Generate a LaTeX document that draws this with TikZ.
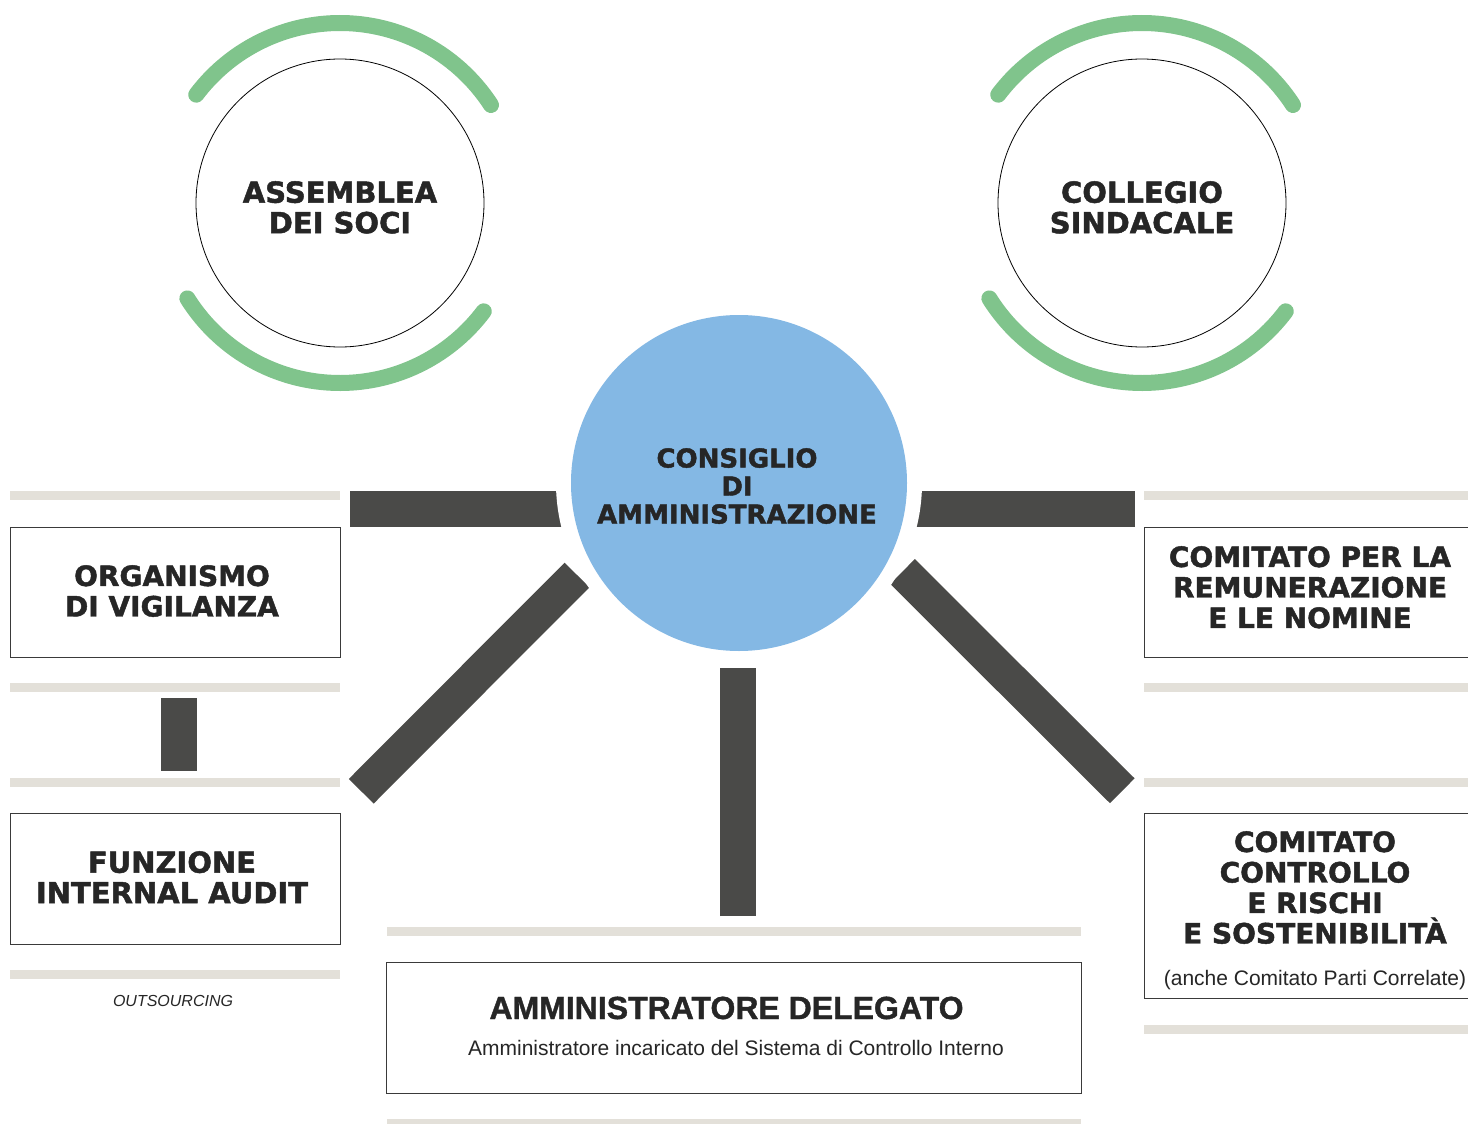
\documentclass[tikz,border=0pt]{standalone}
\usepackage{fontspec}
\setmainfont{Liberation Sans}[BoldFeatures={FakeBold=1.2}]
\newfontfamily\heavy{DejaVu Sans}[BoldFeatures={FakeBold=1.6}]
\definecolor{arcgreen}{HTML}{80C48C}
\definecolor{cdablue}{HTML}{84B8E4}
\definecolor{bardark}{HTML}{4A4A48}
\definecolor{barlight}{HTML}{E3E0D9}
\definecolor{boxline}{HTML}{3A3A3A}
\definecolor{txt}{HTML}{262626}
\begin{document}
\begin{tikzpicture}[x=1pt,y=-1pt,
  greenarc/.style={draw=arcgreen,line width=16pt,line cap=round},
  darkbar/.style={draw=bardark,line width=36pt},
  diagbar/.style={draw=bardark,line width=35pt},
  framebox/.style={draw=boxline,line width=1pt,fill=white,rectangle,inner sep=0pt},
  ttl/.style={text=txt,align=center,inner sep=0pt,anchor=north},
  big/.style={font=\heavy\bfseries\fontsize{29}{30.5}\selectfont},
  mid/.style={font=\heavy\bfseries\fontsize{28}{30.5}\selectfont},
  sub/.style={text=txt,inner sep=0pt,anchor=base,font=\fontsize{21}{24}\selectfont}]
\useasboundingbox[fill=white] (0,0) rectangle (1468,1124);

% light grey strips
\fill[barlight] (10,491) rectangle (340,500);
\fill[barlight] (10,683) rectangle (340,692);
\fill[barlight] (10,778) rectangle (340,787);
\fill[barlight] (10,970) rectangle (340,979);
\fill[barlight] (1144,491) rectangle (1468,500);
\fill[barlight] (1144,683) rectangle (1468,692);
\fill[barlight] (1144,778) rectangle (1468,787);
\fill[barlight] (1144,1025) rectangle (1468,1034);
\fill[barlight] (387,927) rectangle (1081,936);
\fill[barlight] (387,1119) rectangle (1081,1128);

% upper circles
\node[circle,draw=black,line width=0.8pt,minimum size=288pt,inner sep=0pt] (as) at (340,203) {};
\node[circle,draw=black,line width=0.8pt,minimum size=288pt,inner sep=0pt] (cs) at (1142,203) {};
\draw[greenarc] (as.center) ++(-33:180) arc[start angle=-33,end angle=-143,radius=180];
\draw[greenarc] (as.center) ++(148:180) arc[start angle=148,end angle=37,radius=180];
\draw[greenarc] (cs.center) ++(-33:180) arc[start angle=-33,end angle=-143,radius=180];
\draw[greenarc] (cs.center) ++(148:180) arc[start angle=148,end angle=37,radius=180];
\node[ttl,big] (astxt) at (340,181) {ASSEMBLEA\\DEI SOCI};
\node[ttl,big] (cstxt) at (1142,181) {COLLEGIO\\SINDACALE};

% connectors (thick bars)
\coordinate (hlA) at (350,509);  \coordinate (hlB) at (620,509);
\coordinate (hrA) at (1135,509); \coordinate (hrB) at (860,509);
\coordinate (dlA) at (361.25,791.25); \coordinate (dlB) at (577,575);
\coordinate (drA) at (1122.25,790.75); \coordinate (drB) at (902.5,571.5);
\coordinate (vA) at (738,916); \coordinate (vB) at (738,668);
\coordinate (sA) at (179,698); \coordinate (sB) at (179,771);
\draw[darkbar] (hlA) -- (hlB);
\draw[darkbar] (hrA) -- (hrB);
\draw[diagbar] (dlA) -- (dlB);
\draw[diagbar] (drA) -- (drB);
\draw[darkbar] (vA) -- (vB);
\draw[darkbar] (sA) -- (sB);

% central circle
\node[circle,fill=white,minimum size=366pt,inner sep=0pt] (ring) at (739,483) {};
\node[circle,fill=cdablue,minimum size=336pt,inner sep=0pt] (cda) at (739,483) {};
\node[ttl,font=\heavy\bfseries\fontsize{26}{28}\selectfont] (cdatxt) at (737,448) {CONSIGLIO\\DI\\AMMINISTRAZIONE};

% boxes
\node[framebox,minimum width=330pt,minimum height=130pt] (org) at (175,592) {};
\node[ttl,mid] (orgtxt) at (172,565) {ORGANISMO\\DI VIGILANZA};
\node[framebox,minimum width=330pt,minimum height=131pt] (fia) at (175,878.5) {};
\node[ttl,font=\heavy\bfseries\fontsize{29}{30.5}\selectfont] (fiatxt) at (172,851) {FUNZIONE\\INTERNAL AUDIT};
\node[sub,font=\itshape\fontsize{16}{19}\selectfont] (outs) at (173,1006) {OUTSOURCING};
\node[framebox,minimum width=328pt,minimum height=130pt] (crn) at (1308,592) {};
\node[ttl,mid] (crntxt) at (1310,546) {COMITATO PER LA\\REMUNERAZIONE\\E LE NOMINE};
\node[framebox,minimum width=328pt,minimum height=185pt] (ccr) at (1308,905.5) {};
\node[ttl,mid] (ccrtxt) at (1315,831) {COMITATO\\CONTROLLO\\E RISCHI\\E SOSTENIBILITÀ};
\node[sub] (ccrsub) at (1315,985) {(anche Comitato Parti Correlate)};
\node[framebox,minimum width=695pt,minimum height=131pt] (ad) at (733.5,1027.5) {};
\node[sub,font=\bfseries\fontsize{32}{35}\selectfont] (adtxt) at (726.5,1019) {AMMINISTRATORE DELEGATO};
\node[sub] (adsub) at (736,1055) {Amministratore incaricato del Sistema di Controllo Interno};
\end{tikzpicture}
\end{document}
